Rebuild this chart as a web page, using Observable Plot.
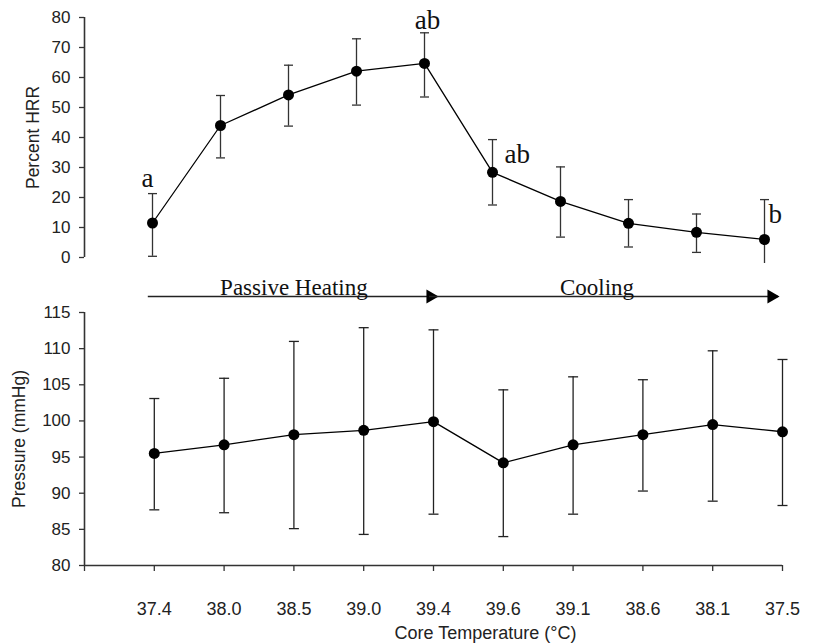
<!DOCTYPE html>
<html>
<head>
<meta charset="utf-8">
<script src="https://cdn.jsdelivr.net/npm/d3@7"></script>
<script src="https://cdn.jsdelivr.net/npm/@observablehq/plot@0.6"></script>
<style>
  body { margin: 0; background: #fff; }
  #chart svg { display: block; }
</style>
</head>
<body>
<div id="chart"></div>
<script>
// ---- data ----
const temps   = ["37.4", "38.0", "38.5", "39.0", "39.4", "39.6", "39.1", "38.6", "38.1", "37.5"];

const hrrMean = [11.5, 44.0, 54.2, 62.1, 64.7, 28.4, 18.7, 11.4, 8.4, 6.0];
const hrrHigh = [21.3, 54.0, 64.1, 72.9, 74.9, 39.3, 30.2, 19.3, 14.5, 19.3];
const hrrLow  = [0.4, 33.2, 43.8, 50.8, 53.5, 17.5, 6.8, 3.5, 1.7, -2.0];

const mapMean = [95.5, 96.7, 98.1, 98.7, 99.9, 94.2, 96.7, 98.1, 99.5, 98.5];
const mapHigh = [103.1, 105.9, 111.0, 112.9, 112.6, 104.3, 106.1, 105.7, 109.7, 108.5];
const mapLow  = [87.7, 87.3, 85.1, 84.3, 87.1, 84.0, 87.1, 90.3, 88.9, 88.3];

const sigIndex = [0, 4, 5, 9];
const sigLabel = ["a", "ab", "ab", "b"];

const phaseNames = ["Passive Heating", "Cooling"];
const phaseStart = [0, 4];
const phaseEnd   = [4, 9];

const hrrTicks = [0, 10, 20, 30, 40, 50, 60, 70, 80];
const mapTicks = [80, 85, 90, 95, 100, 105, 110, 115];

// ---- derived tables ----
const hrrRows = temps.map((t, k) => ({pos: k + 1, t, v: hrrMean[k], hi: hrrHigh[k], lo: hrrLow[k]}));
const mapRows = temps.map((t, k) => ({pos: k + 1, t, v: mapMean[k], hi: mapHigh[k], lo: mapLow[k]}));
const sigRows = sigIndex.map((k, j) => ({pos: k + 1, letter: sigLabel[j], v: hrrMean[k], hi: hrrHigh[k]}));
const phaseRows = phaseNames.map((name, j) => ({name, from: phaseStart[j] + 1, to: phaseEnd[j] + 1}));

const hrrDomain = [hrrTicks[0], hrrTicks[hrrTicks.length - 1]];
const mapDomain = [mapTicks[0], mapTicks[mapTicks.length - 1]];
const xDomain = [0, temps.length];

// horizontal cap symbol for error bars
const capSymbol = {
  draw(ctx, size) {
    const r = Math.sqrt(size / Math.PI);
    ctx.moveTo(-r, 0);
    ctx.lineTo(r, 0);
  }
};

const sans = "'Liberation Sans', Arial, sans-serif";
const serif = "'Liberation Serif', 'Times New Roman', serif";
const ink = "#222";

// ---- top panel: Percent HRR ----
const sigStyle = [
  {y: "hi", dx: -5, dy: -7, textAnchor: "middle"},
  {y: "hi", dx: 3, dy: -4, textAnchor: "middle"},
  {y: "v", dx: 12, dy: -9, textAnchor: "start"},
  {y: "v", dx: 4, dy: -17, textAnchor: "start"}
];

const topPanel = Plot.plot({
  width: 819, height: 275,
  marginLeft: 84, marginRight: 55, marginTop: 17, marginBottom: 18,
  x: {domain: xDomain, axis: null},
  y: {domain: hrrDomain},
  style: {fontFamily: sans, color: ink, background: "#fff"},
  marks: [
    Plot.axisY({ticks: hrrTicks, tickSize: 5, tickPadding: 9, fontSize: 17, label: null, stroke: "#333", strokeWidth: 1.3}),
    Plot.ruleX([xDomain[0]], {y1: hrrDomain[0], y2: hrrDomain[1], stroke: "#333", strokeWidth: 1.6}),
    Plot.ruleX(hrrRows, {x: "pos", y1: "lo", y2: "hi", stroke: "#333", strokeWidth: 1.3}),
    Plot.dot(hrrRows, {x: "pos", y: "hi", symbol: capSymbol, r: 4.5, stroke: "#333", strokeWidth: 1.3, fill: "none"}),
    Plot.dot(hrrRows.filter(d => d.lo >= hrrDomain[0]), {x: "pos", y: "lo", symbol: capSymbol, r: 4.5, stroke: "#333", strokeWidth: 1.3, fill: "none"}),
    Plot.line(hrrRows, {x: "pos", y: "v", stroke: "#000", strokeWidth: 1.3}),
    Plot.dot(hrrRows, {x: "pos", y: "v", r: 5.5, fill: "#000"}),
    Plot.text(["Percent HRR"], {frameAnchor: "left", rotate: -90, dx: -51, textAnchor: "middle", fontSize: 17.5, fill: ink}),
    ...sigRows.map((d, j) => Plot.text([d], {x: "pos", text: "letter", ...sigStyle[j], lineAnchor: "bottom", fontFamily: serif, fontSize: 27, fill: "#111"}))
  ]
});

// ---- bottom panel: Pressure ----
const phaseOffsets = [
  {line: -6, head: -3, text: 0},
  {line: -4, head: -11, text: -11}
];
const arrowY = mapDomain[1];

const bottomPanel = Plot.plot({
  width: 819, height: 369,
  marginLeft: 84, marginRight: 37, marginTop: 37, marginBottom: 79,
  x: {domain: xDomain},
  y: {domain: mapDomain},
  style: {fontFamily: sans, color: ink, background: "#fff"},
  marks: [
    Plot.axisY({ticks: mapTicks, tickSize: 5, tickPadding: 9, fontSize: 17, label: null, stroke: "#333", strokeWidth: 1.3}),
    Plot.axisX({ticks: d3.range(xDomain[0], xDomain[1] + 1), tickSize: 6, tickPadding: 31, fontSize: 18,
      tickFormat: i => temps[i - 1] ?? "", label: null, stroke: "#333", strokeWidth: 1.3}),
    Plot.ruleX([xDomain[0]], {y1: mapDomain[0], y2: mapDomain[1], stroke: "#333", strokeWidth: 1.6}),
    Plot.ruleY([mapDomain[0]], {stroke: "#333", strokeWidth: 1.6}),
    Plot.ruleX(mapRows, {x: "pos", y1: "lo", y2: "hi", stroke: "#222", strokeWidth: 1.3}),
    Plot.dot(mapRows, {x: "pos", y: "hi", symbol: capSymbol, r: 5, stroke: "#222", strokeWidth: 1.3, fill: "none"}),
    Plot.dot(mapRows, {x: "pos", y: "lo", symbol: capSymbol, r: 5, stroke: "#222", strokeWidth: 1.3, fill: "none"}),
    Plot.line(mapRows, {x: "pos", y: "v", stroke: "#000", strokeWidth: 1.3}),
    Plot.dot(mapRows, {x: "pos", y: "v", r: 5.5, fill: "#000"}),
    Plot.text(["Pressure (mmHg)"], {frameAnchor: "left", rotate: -90, dx: -65, textAnchor: "middle", fontSize: 17.5, fill: ink}),
    Plot.text(["Core Temperature (°C)"], {frameAnchor: "bottom", dx: 52, dy: 73, lineAnchor: "bottom", fontSize: 18, fill: ink, letterSpacing: "0.6px"}),
    ...phaseRows.flatMap((p, j) => [
      Plot.ruleY([p], {x1: "from", x2: "to", y: () => arrowY, dx: phaseOffsets[j].line, dy: -16, stroke: "#222", strokeWidth: 1.5}),
      Plot.dot([p], {x: "to", y: () => arrowY, symbol: "triangle", rotate: 90, r: 5.2, fill: "#000", stroke: "none", dx: phaseOffsets[j].head, dy: -16}),
      Plot.text([p], {x: d => (d.from + d.to) / 2, y: () => arrowY, text: "name", dx: phaseOffsets[j].text, dy: -17.5,
        lineAnchor: "bottom", fontFamily: serif, fontSize: 23, fill: "#111"})
    ])
  ]
});

const chart = document.getElementById("chart");
chart.appendChild(topPanel);
chart.appendChild(bottomPanel);
</script>
</body>
</html>
